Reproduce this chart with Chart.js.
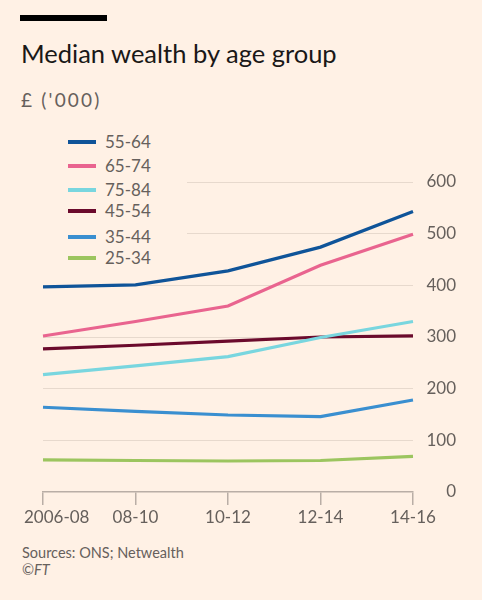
<!DOCTYPE html>
<html>
<head>
<meta charset="utf-8">
<script src="https://cdn.jsdelivr.net/npm/chart.js@4/dist/chart.umd.min.js"></script>
<style>
  html, body { margin: 0; padding: 0; }
  body { width: 482px; height: 600px; background: #fff1e5; position: relative; overflow: hidden; font-family: Lato, sans-serif; }
  .bar { position: absolute; left: 20px; top: 15px; width: 87px; height: 6px; background: #000; }
  .title { position: absolute; left: 21px; top: 38px; font-size: 25.5px; color: #1a1817; white-space: nowrap; }
  .sub { position: absolute; left: 21px; top: 88px; font-size: 19px; letter-spacing: 2.2px; color: #66605c; }
  .wrap { position: absolute; left: 0; top: 120px; width: 482px; height: 420px; }
  #legend { position: absolute; left: 0; top: 130px; width: 187px; height: 140px; background: #fff1e5; }
  .item { position: absolute; left: 68px; height: 20px; font-size: 17px; color: #66605c; }
  .item span.sw { position: absolute; left: 0; top: 8px; width: 28px; height: 4px; }
  .item span.tx { position: absolute; left: 37px; top: 0; line-height: 20px; white-space: nowrap; }
  .src { position: absolute; left: 22px; top: 544px; font-size: 14.5px; color: #66605c; line-height: 17px; }
</style>
</head>
<body>
<div class="bar"></div>
<div class="title">Median wealth by age group</div>
<div class="sub">£ ('000)</div>
<div class="wrap"><canvas id="wealthChart"></canvas></div>
<div id="legend"></div>
<div class="src">Sources: ONS; Netwealth<br>©<i>FT</i></div>
<script>
const periods = ["2006-08", "08-10", "10-12", "12-14", "14-16"];
const groups = ["55-64", "65-74", "75-84", "45-54", "35-44", "25-34"];
const colors = ["#0f5499", "#e9648f", "#79d6df", "#6b0a2c", "#3a8fd0", "#9cc55f"];
const age55to64 = [397, 401, 428, 474, 543];
const age65to74 = [302, 330, 360, 439, 499];
const age75to84 = [227, 244, 262, 299, 330];
const age45to54 = [277, 284, 292, 300, 302];
const age35to44 = [164, 156, 149, 146, 178];
const age25to34 = [62, 61, 60, 61, 69];
const yTicks = [0, 100, 200, 300, 400, 500, 600];

const seriesValues = [age55to64, age65to74, age75to84, age45to54, age35to44, age25to34];

// x labels drawn by hand so the first one can sit flush left like the FT style
const xLabelPlugin = {
  id: "xLabels",
  afterDraw(chart) {
    const ctx = chart.ctx;
    const xs = chart.scales.x;
    ctx.save();
    ctx.font = "17px Lato, sans-serif";
    ctx.fillStyle = "#66605c";
    ctx.textBaseline = "middle";
    periods.forEach(function (p, i) {
      const px = xs.getPixelForValue(i);
      if (i === 0) {
        ctx.textAlign = "left";
        ctx.fillText(p, px - 19, chart.chartArea.bottom + 26);
      } else {
        ctx.textAlign = "center";
        ctx.fillText(p, px, chart.chartArea.bottom + 26);
      }
    });
    ctx.restore();
  },
};

const chart = new Chart(document.getElementById("wealthChart"), {
  type: "line",
  data: {
    labels: periods,
    datasets: groups.map(function (g, i) {
      return {
        label: g,
        data: seriesValues[i],
        borderColor: colors[i],
        backgroundColor: colors[i],
        borderWidth: 3.2,
        pointRadius: 0,
        tension: 0,
      };
    }),
  },
  options: {
    responsive: true,
    maintainAspectRatio: false,
    animation: false,
    layout: { padding: { top: 62, left: 43, right: 26, bottom: 35 } },
    plugins: { legend: { display: false }, tooltip: { enabled: false } },
    scales: {
      x: {
        offset: false,
        grid: { drawOnChartArea: false, drawTicks: true, tickLength: 13, color: "#b9aea6", lineWidth: 1.5 },
        border: { display: true, color: "#b9aea6", width: 1.5 },
        ticks: { display: false },
      },
      y: {
        position: "right",
        min: 0,
        max: 600,
        afterBuildTicks: function (scale) {
          scale.ticks = yTicks.map(function (v) { return { value: v }; });
        },
        afterFit: function (scale) {
          scale.width = 43;
        },
        grid: {
          drawTicks: false,
          color: function (c) { return c.tick && c.tick.value === 0 ? "rgba(0,0,0,0)" : "#e7d9cd"; },
          lineWidth: 1,
        },
        border: { display: false },
        ticks: {
          padding: 13,
          crossAlign: "far",
          color: "#66605c",
          font: { family: "Lato, sans-serif", size: 17 },
        },
      },
    },
  },
  plugins: [xLabelPlugin],
});

// legend built from the same arrays
const legend = document.getElementById("legend");
const rowTops = [2, 25.5, 49.5, 71, 96.5, 118];
groups.forEach(function (g, i) {
  const item = document.createElement("div");
  item.className = "item";
  item.style.top = rowTops[i] + "px";
  item.innerHTML = "<span class='sw' style='background:" + colors[i] + "'></span><span class='tx'>" + g + "</span>";
  legend.appendChild(item);
});
</script>
</body>
</html>
